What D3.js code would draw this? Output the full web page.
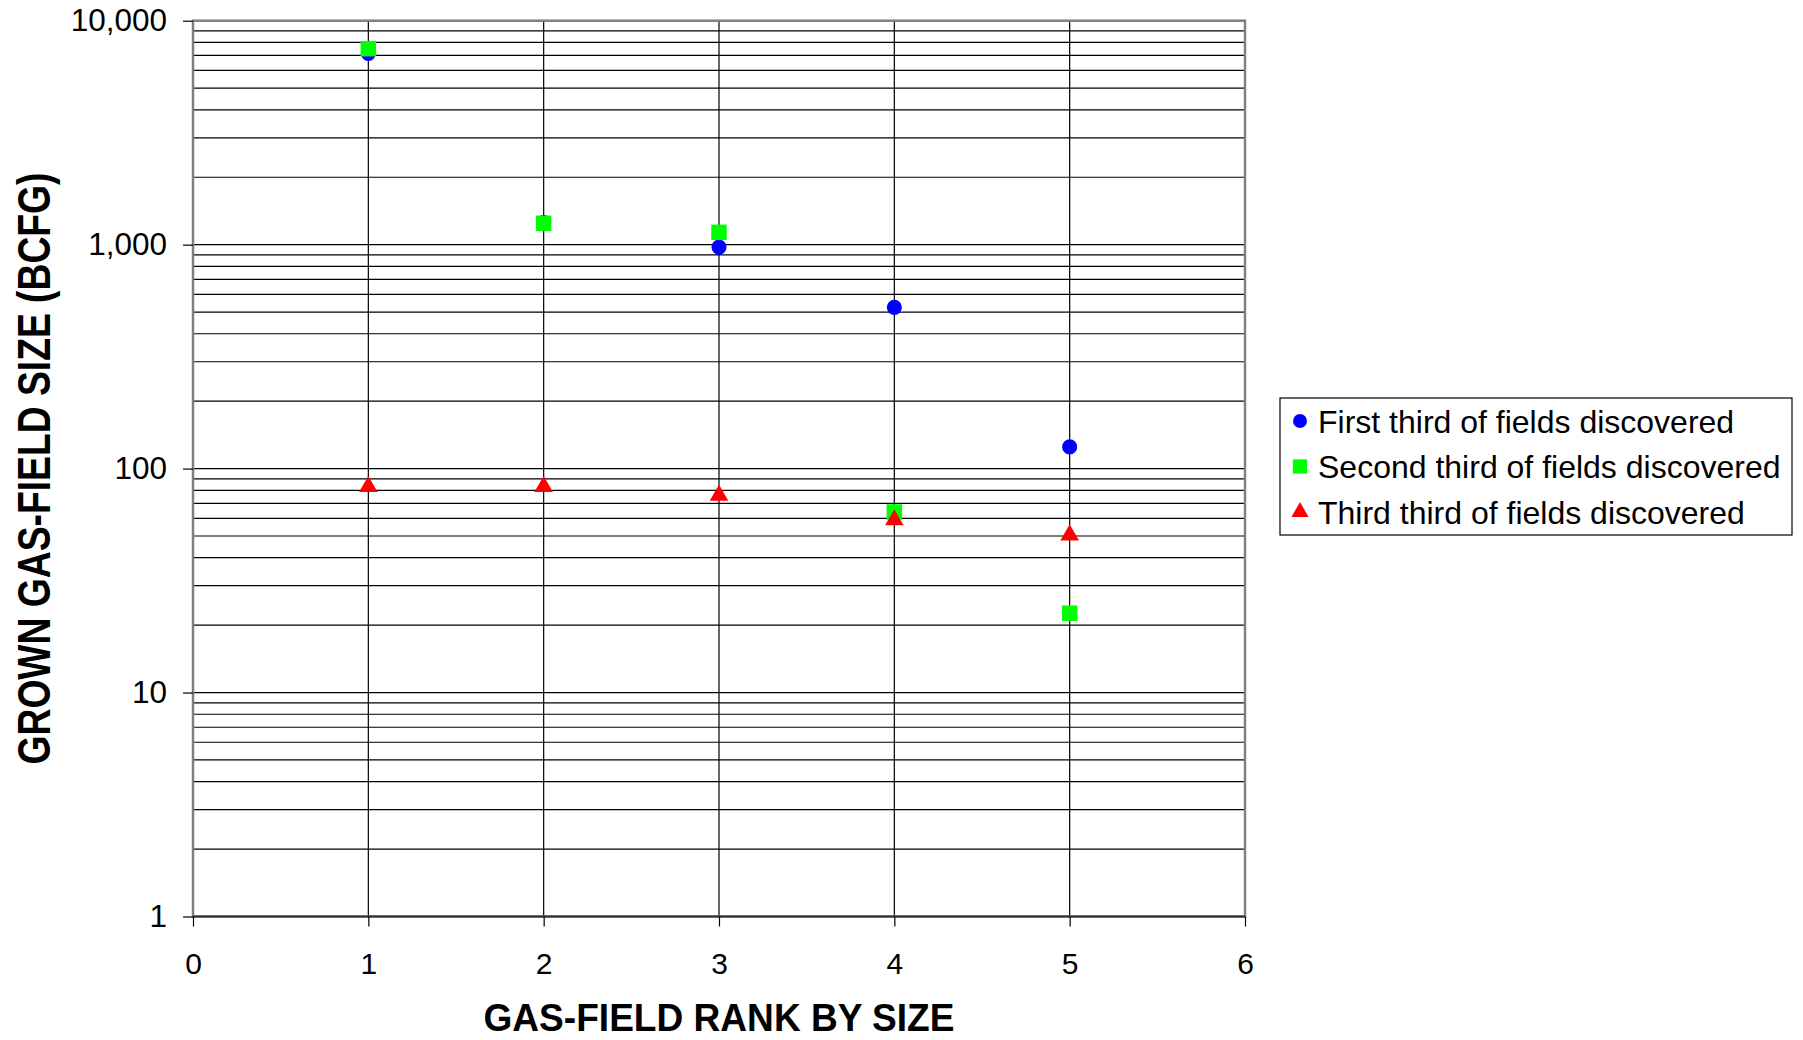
<!DOCTYPE html>
<html>
<head>
<meta charset="utf-8">
<script src="https://cdn.jsdelivr.net/npm/d3@7"></script>
<style>
html,body{margin:0;padding:0;background:#fff;}
svg{display:block;font-family:Arial,"Liberation Sans",sans-serif;}
</style>
</head>
<body>
<svg id="chart" width="1803" height="1040"></svg>
<script>
// ---- data ----
const ranks = [1, 2, 3, 4, 5];
const firstThird  = [7150, 1255, 975, 525, 125];
const secondThird = [7500, 1245, 1135, 64, 22.6];
const thirdThird  = [83, 83, 76, 59, 50.5];
const seriesNames = ["First third of fields discovered", "Second third of fields discovered", "Third third of fields discovered"];
const xTicks = [0, 1, 2, 3, 4, 5, 6];
const yTicks = [1, 10, 100, 1000, 10000];
const xTitle = "GAS-FIELD RANK BY SIZE";
const yTitle = "GROWN GAS-FIELD SIZE (BCFG)";

(function () {
const colors = ["#0000FF", "#00FF00", "#FF0000"];
const shapes = [d3.symbolCircle, d3.symbolSquare, d3.symbolTriangle];
const sizes = [180, 240, 150];

const svg = d3.select("#chart");
const pL = 193, pR = 1245, pT = 20.7, pB = 916.5;

const x = d3.scaleLinear().domain([0, 6]).range([pL, pR]);
const y = d3.scaleLog().domain([1, 10000]).range([pB, pT]);

// horizontal gridlines (major + minor)
const gridVals = [];
for (let e = 0; e < 4; e++) {
  for (let m = 1; m <= 9; m++) gridVals.push(m * Math.pow(10, e));
}
gridVals.push(10000);
svg.append("g").selectAll("line").data(gridVals).join("line")
  .attr("x1", pL).attr("x2", pR)
  .attr("y1", d => y(d)).attr("y2", d => y(d))
  .attr("stroke", "#000").attr("stroke-width", 1.2);

// vertical gridlines
svg.append("g").selectAll("line").data(xTicks.filter(d => d > 0 && d < 6)).join("line")
  .attr("x1", d => x(d)).attr("x2", d => x(d))
  .attr("y1", pT).attr("y2", pB)
  .attr("stroke", "#000").attr("stroke-width", 1.2);

// plot border
svg.append("rect")
  .attr("x", pL).attr("y", pT).attr("width", pR - pL).attr("height", pB - pT)
  .attr("fill", "none").attr("stroke", "#808080").attr("stroke-width", 2.5);
svg.append("line").attr("x1", pL).attr("x2", pR).attr("y1", pB).attr("y2", pB)
  .attr("stroke", "#333").attr("stroke-width", 2);

// axes
const yAxis = d3.axisLeft(y).tickValues(yTicks).tickSize(10).tickPadding(16)
  .tickFormat(d3.format(","));
const gy = svg.append("g").attr("transform", `translate(${pL},0)`).call(yAxis);
gy.select(".domain").remove();
gy.selectAll(".tick line").attr("stroke", "#000").attr("stroke-width", 1.2);
gy.selectAll(".tick text").attr("font-size", 31.5).attr("fill", "#000")
  .attr("font-family", "Arial, 'Liberation Sans', sans-serif");

const xAxis = d3.axisBottom(x).tickValues(xTicks).tickSize(10).tickPadding(26)
  .tickFormat(d3.format("d"));
const gx = svg.append("g").attr("transform", `translate(0,${pB})`).call(xAxis);
gx.select(".domain").remove();
gx.selectAll(".tick line").attr("stroke", "#000").attr("stroke-width", 1.2);
gx.selectAll(".tick text").attr("font-size", 30).attr("fill", "#000")
  .attr("font-family", "Arial, 'Liberation Sans', sans-serif");

// titles
svg.append("text")
  .attr("x", 719).attr("y", 1031)
  .attr("text-anchor", "middle")
  .attr("font-size", 38).attr("font-weight", "bold")
  .attr("textLength", 471).attr("lengthAdjust", "spacingAndGlyphs")
  .text(xTitle);
svg.append("text")
  .attr("transform", "translate(49.5,468.5) rotate(-90)")
  .attr("text-anchor", "middle")
  .attr("font-size", 46).attr("font-weight", "bold")
  .attr("textLength", 592).attr("lengthAdjust", "spacingAndGlyphs")
  .text(yTitle);

// points
const seriesData = [firstThird, secondThird, thirdThird];
seriesData.forEach((vals, i) => {
  svg.append("g").selectAll("path")
    .data(ranks.map((r, j) => ({ r, v: vals[j] })).filter(d => d.v != null))
    .join("path")
    .attr("transform", d => `translate(${x(d.r)},${y(d.v)})`)
    .attr("d", d3.symbol().type(shapes[i]).size(sizes[i]))
    .attr("fill", colors[i]);
});

// legend
const lg = svg.append("g");
lg.append("rect").attr("x", 1280).attr("y", 398).attr("width", 512).attr("height", 137)
  .attr("fill", "#fff").attr("stroke", "#000").attr("stroke-width", 1.2);
seriesNames.forEach((name, i) => {
  const cy = 421 + i * 45.5;
  lg.append("path")
    .attr("transform", `translate(1300,${cy})`)
    .attr("d", d3.symbol().type(shapes[i]).size(sizes[i] * 0.85))
    .attr("fill", colors[i]);
  lg.append("text").attr("x", 1318).attr("y", cy + 11.5)
    .attr("font-size", 32).attr("fill", "#000").text(name);
});
})();
</script>
</body>
</html>
